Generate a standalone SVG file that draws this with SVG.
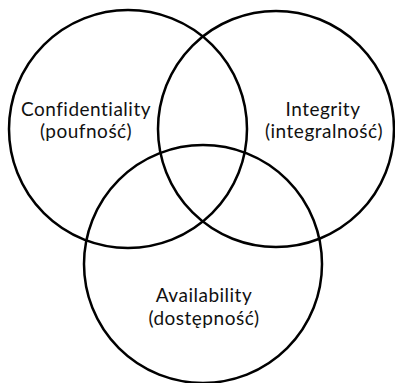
<svg xmlns="http://www.w3.org/2000/svg" width="395" height="383" viewBox="0 0 395 383">
<style>
.c{fill:none;stroke:#000;stroke-width:2.5}
.t{font-family:Lato,"Open Sans",sans-serif;font-size:19px;letter-spacing:0.5px;fill:#111;text-anchor:middle}
</style>
<rect width="395" height="383" fill="#fff"/>
<g id="confidentiality"><circle class="c" cx="128" cy="129" r="119"/></g>
<g id="integrity"><circle class="c" cx="276" cy="129" r="118"/></g>
<g id="availability"><circle class="c" cx="203" cy="264" r="119"/></g>
<g id="labels">
<text class="t" x="86" y="116">Confidentiality</text>
<text class="t" x="86" y="138">(poufność)</text>
<text class="t" x="323" y="116">Integrity</text>
<text class="t" x="324" y="138">(integralność)</text>
<text class="t" x="204" y="302">Availability</text>
<text class="t" x="204" y="325">(dostępność)</text>
</g>
</svg>
